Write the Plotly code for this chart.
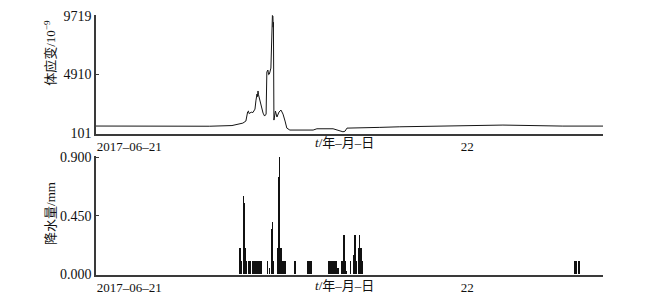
import plotly.graph_objects as go
from plotly.subplots import make_subplots

# ---- data ----
strain_time = [
    "2017-06-21 00:00", "2017-06-21 02:30", "2017-06-21 05:00", "2017-06-21 07:30",
    "2017-06-21 08:58", "2017-06-21 09:22", "2017-06-21 09:41", "2017-06-21 09:53",
    "2017-06-21 09:58", "2017-06-21 10:00", "2017-06-21 10:03", "2017-06-21 10:06",
    "2017-06-21 10:09", "2017-06-21 10:14", "2017-06-21 10:21", "2017-06-21 10:29",
    "2017-06-21 10:33", "2017-06-21 10:37", "2017-06-21 10:39", "2017-06-21 10:41",
    "2017-06-21 10:43", "2017-06-21 10:45", "2017-06-21 10:49", "2017-06-21 10:53",
    "2017-06-21 10:56", "2017-06-21 11:01", "2017-06-21 11:07", "2017-06-21 11:13",
    "2017-06-21 11:16", "2017-06-21 11:20", "2017-06-21 11:23", "2017-06-21 11:26",
    "2017-06-21 11:32", "2017-06-21 11:36", "2017-06-21 11:38", "2017-06-21 11:39",
    "2017-06-21 11:40", "2017-06-21 11:41", "2017-06-21 11:42", "2017-06-21 11:44",
    "2017-06-21 11:50", "2017-06-21 11:56", "2017-06-21 12:04", "2017-06-21 12:12",
    "2017-06-21 12:20", "2017-06-21 12:28", "2017-06-21 12:35", "2017-06-21 12:47",
    "2017-06-21 13:07", "2017-06-21 13:27", "2017-06-21 14:19", "2017-06-21 14:34",
    "2017-06-21 15:38", "2017-06-21 16:17", "2017-06-21 16:25", "2017-06-21 16:33",
    "2017-06-21 16:45", "2017-06-21 18:43", "2017-06-21 20:02", "2017-06-22 00:28",
    "2017-06-22 02:50", "2017-06-22 06:47", "2017-06-22 09:26",
]
strain_value = [
    680, 670, 660, 665,
    720, 840, 920, 1090,
    1745, 1850, 1910, 1700,
    1745, 1820, 1790, 2070,
    2810, 3310, 3100, 3560,
    3250, 3060, 2810, 2320,
    1990, 1745, 1500, 1660,
    5115, 5280, 4900, 4950,
    5440, 7750, 9760, 8900,
    9700, 8800, 9200, 1170,
    1910, 1420, 1830, 1990,
    1660, 1090, 510, 350,
    350, 310, 350, 455,
    455, 210, 250, 510,
    510, 570, 619, 734,
    760, 676, 676,
]

rain_time = [
    "2017-06-21 09:30", "2017-06-21 09:34", "2017-06-21 09:43", "2017-06-21 09:45",
    "2017-06-21 09:49", "2017-06-21 09:53", "2017-06-21 10:03", "2017-06-21 10:09",
    "2017-06-21 10:19", "2017-06-21 10:22", "2017-06-21 10:29", "2017-06-21 10:33",
    "2017-06-21 10:37", "2017-06-21 10:41", "2017-06-21 10:45", "2017-06-21 10:49",
    "2017-06-21 10:56", "2017-06-21 11:18", "2017-06-21 11:26", "2017-06-21 11:37",
    "2017-06-21 11:39", "2017-06-21 11:42", "2017-06-21 11:57", "2017-06-21 12:03",
    "2017-06-21 12:05", "2017-06-21 12:08", "2017-06-21 12:12", "2017-06-21 12:16",
    "2017-06-21 12:20", "2017-06-21 12:24", "2017-06-21 12:28", "2017-06-21 13:07",
    "2017-06-21 13:57", "2017-06-21 14:01", "2017-06-21 14:05", "2017-06-21 14:08",
    "2017-06-21 14:13", "2017-06-21 15:19", "2017-06-21 15:24", "2017-06-21 15:28",
    "2017-06-21 15:34", "2017-06-21 15:38", "2017-06-21 15:41", "2017-06-21 15:46",
    "2017-06-21 15:51", "2017-06-21 15:57", "2017-06-21 16:12", "2017-06-21 16:17",
    "2017-06-21 16:21", "2017-06-21 16:25", "2017-06-21 16:29", "2017-06-21 16:48",
    "2017-06-21 16:58", "2017-06-21 17:05", "2017-06-21 17:08", "2017-06-21 17:18",
    "2017-06-21 17:22", "2017-06-21 17:26", "2017-06-21 17:31", "2017-06-21 17:35",
    "2017-06-22 07:32", "2017-06-22 07:37", "2017-06-22 07:41", "2017-06-22 07:51",
]
rain_value = [
    0.2, 0.1, 0.6, 0.55,
    0.2, 0.1, 0.1, 0.1,
    0.1, 0.1, 0.1, 0.1,
    0.1, 0.1, 0.1, 0.1,
    0.1, 0.1, 0.05, 0.35,
    0.4, 0.1, 0.2, 0.75,
    0.9, 0.2, 0.2, 0.1,
    0.1, 0.1, 0.1, 0.1,
    0.1, 0.1, 0.1, 0.1,
    0.1, 0.1, 0.1, 0.1,
    0.1, 0.1, 0.1, 0.1,
    0.1, 0.05, 0.1, 0.1,
    0.3, 0.1, 0.03, 0.1,
    0.15, 0.3, 0.1, 0.2,
    0.3, 0.2, 0.2, 0.1,
    0.1, 0.1, 0.1, 0.1,
]

x_tickvals = ["2017-06-21 00:00", "2017-06-22 00:00"]
x_ticktext = ["2017–06–21", "22"]
x_range = ["2017-06-21 00:00", "2017-06-22 09:26"]
strain_ticks = [101, 4910, 9719]
rain_ticks = [0.0, 0.45, 0.9]

FONT = "Liberation Serif, Times New Roman, Noto Sans CJK SC, serif"
AXC = "#3a3a3a"

fig = make_subplots(rows=2, cols=1, vertical_spacing=0.084)

fig.add_trace(go.Scatter(x=strain_time, y=strain_value, mode="lines",
                         line=dict(color="#151515", width=1), showlegend=False),
              row=1, col=1)
fig.add_trace(go.Bar(x=rain_time, y=rain_value, width=90000,
                     marker=dict(color="#111111", line=dict(width=0)),
                     showlegend=False),
              row=2, col=1)

xax = dict(type="date", range=x_range, tickvals=x_tickvals, ticktext=x_ticktext,
           ticklabelposition="outside right", showgrid=False, zeroline=False,
           showline=True, linecolor=AXC, linewidth=1.5, ticks="", automargin=False,
           tickfont=dict(family=FONT, size=13, color="#111"))
fig.update_xaxes(**xax, row=1, col=1)
fig.update_xaxes(**xax, row=2, col=1)

yax = dict(showgrid=False, zeroline=False, showline=True, linecolor=AXC, linewidth=1.5,
           ticks="inside", ticklen=3, tickcolor=AXC, automargin=False,
           tickfont=dict(family=FONT, size=14, color="#111"))
fig.update_yaxes(**yax, range=[20, 9800], tickvals=strain_ticks,
                 ticktext=[str(v) for v in strain_ticks], row=1, col=1)
fig.update_yaxes(**yax, range=[-0.005, 0.91], tickvals=rain_ticks,
                 tickformat=".3f", row=2, col=1)

ann_font = dict(family=FONT, size=13, color="#111")
annotations = [
    dict(text="体应变/10<sup>−9</sup>", x=-0.091, y=0.854, textangle=-90),
    dict(text="降水量/mm", x=-0.091, y=0.238, textangle=-90),
    dict(text="<i>t</i>/年–月–日", x=0.491, y=0.508),
    dict(text="<i>t</i>/年–月–日", x=0.491, y=-0.0385),
]
for a in annotations:
    fig.add_annotation(xref="paper", yref="paper", showarrow=False,
                       xanchor="center", yanchor="middle", font=ann_font, **a)

# page body has an 8px margin, so the figure is offset by (8, 8)
fig.update_layout(width=642, height=300,
                  margin=dict(l=88, r=47, t=7, b=33, autoexpand=False),
                  paper_bgcolor="white", plot_bgcolor="white", bargap=0)

fig.write_html("out.html")
